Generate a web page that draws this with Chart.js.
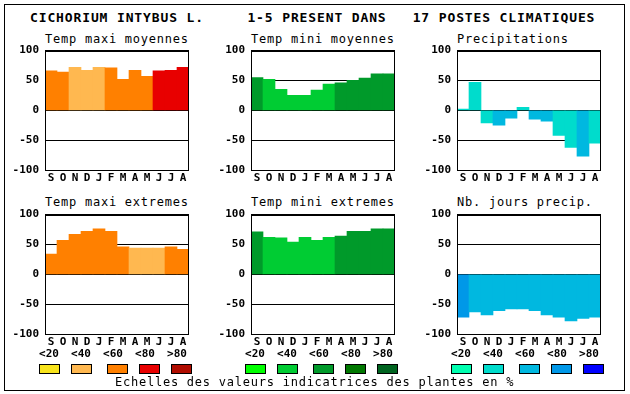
<!DOCTYPE html>
<html>
<head>
<meta charset="utf-8">
<script src="https://cdn.jsdelivr.net/npm/chart.js@4/dist/chart.umd.min.js"></script>
<style>
    body { margin: 0; background: #fff; }
    #page { position: relative; width: 630px; height: 394px; overflow: hidden; font-family: "DejaVu Sans Mono", monospace; color: #000; }
    #frame { position: absolute; left: 4px; top: 4px; width: 621px; height: 387px; box-sizing: border-box; border: 1px solid #000; }
    .txt { position: absolute; white-space: pre; line-height: 14px; }
    .main { font-size: 13px; font-weight: bold; letter-spacing: 0.87px; }
    .sub { font-size: 12px; letter-spacing: 0.76px; }
    .cls { font-size: 11px; font-weight: bold; width: 20px; text-align: center; }
    .sq { position: absolute; width: 21px; height: 10px; box-sizing: border-box; border: 1px solid #000; }
    canvas { position: absolute; }
</style>
</head>
<body>
<div id="page">
    <div id="frame"></div>
</div>
<script>
// month axis, value classes and tick values
const months = ["S", "O", "N", "D", "J", "F", "M", "A", "M", "J", "J", "A"];
const classLabels = ["<20", "<40", "<60", "<80", ">80"];
const yTicks = [-100, -50, 0, 50, 100];

// colour scales (one per family of charts)
const tempColors = ["#f8e41c", "#ffb850", "#ff8000", "#e80000", "#b00c00"];
const greenColors = ["#00ff00", "#00cc33", "#009a2a", "#007800", "#006420"];
const waterColors = ["#00ffb0", "#00dccc", "#00b8e0", "#0098e8", "#0000ff"];

// values (S .. A)
const tmaxMoy = [66, 64, 72, 67, 72, 71, 52, 67, 57, 66, 67, 72];
const tminMoy = [55, 52, 35, 25, 25, 34, 44, 46, 50, 54, 61, 61];
const precip = [2, 47, -21, -25, -13, 5, -15, -18, -42, -62, -77, -55];
const tmaxExt = [34, 57, 67, 72, 76, 72, 46, 44, 44, 44, 46, 42];
const tminExt = [71, 62, 61, 54, 62, 57, 62, 64, 72, 72, 76, 76];
const nbJours = [-72, -63, -68, -61, -58, -58, -61, -68, -72, -78, -74, -72];

// class index (0 = <20 .. 4 = >80) of each month's bar
const tmaxMoyClass = [2, 2, 1, 1, 1, 2, 2, 2, 2, 3, 3, 3];
const tminMoyClass = [2, 1, 1, 1, 1, 1, 1, 2, 2, 2, 2, 2];
const precipClass = [1, 1, 1, 2, 2, 1, 2, 2, 1, 1, 2, 1];
const tmaxExtClass = [2, 2, 2, 2, 2, 2, 2, 1, 1, 1, 2, 2];
const tminExtClass = [2, 1, 1, 1, 1, 1, 1, 2, 2, 2, 2, 2];
const nbJoursClass = [3, 2, 2, 2, 2, 2, 2, 2, 2, 2, 2, 2];

const title = "CICHORIUM INTYBUS L.     1-5 PRESENT DANS   17 POSTES CLIMATIQUES";
const footer = "Echelles des valeurs indicatrices des plantes en %";

const panels = [
    {title: "Temp maxi moyennes", values: tmaxMoy, classes: tmaxMoyClass, colors: tempColors, col: 0, row: 0},
    {title: "Temp mini moyennes", values: tminMoy, classes: tminMoyClass, colors: greenColors, col: 1, row: 0},
    {title: "Precipitations", values: precip, classes: precipClass, colors: waterColors, col: 2, row: 0},
    {title: "Temp maxi extremes", values: tmaxExt, classes: tmaxExtClass, colors: tempColors, col: 0, row: 1},
    {title: "Temp mini extremes", values: tminExt, classes: tminExtClass, colors: greenColors, col: 1, row: 1},
    {title: "Nb. jours precip.", values: nbJours, classes: nbJoursClass, colors: waterColors, col: 2, row: 1},
];

const FONT = '"DejaVu Sans Mono", monospace';
const plotLefts = [45, 251, 457];
const plotTops = [50, 214];
const PLOT_W = 144, PLOT_H = 120, AXIS_W = 45, AXIS_H = 16, PAD_TOP = 12, PAD_RIGHT = 2;

const page = document.getElementById("page");

function addText(cls, text, left, top) {
    const d = document.createElement("div");
    d.className = "txt " + cls;
    d.textContent = text;
    d.style.left = left + "px";
    d.style.top = top + "px";
    page.appendChild(d);
    return d;
}

// black box around the plot area
const framePlugin = {
    id: "plotFrame",
    afterDraw(chart) {
        const a = chart.chartArea;
        const ctx = chart.ctx;
        ctx.save();
        ctx.strokeStyle = "#000";
        ctx.lineWidth = 1;
        ctx.strokeRect(Math.round(a.left) + 0.5, Math.round(a.top) + 0.5,
            Math.round(a.right - a.left) - 1, Math.round(a.bottom - a.top));
        ctx.restore();
    }
};

addText("main", title, 30, 11);

panels.forEach(function(p) {
    const left = plotLefts[p.col];
    const top = plotTops[p.row];

    addText("sub", p.title, left, p.row === 0 ? 32 : 195);

    const canvas = document.createElement("canvas");
    canvas.width = AXIS_W + PLOT_W + PAD_RIGHT;
    canvas.height = PAD_TOP + PLOT_H + AXIS_H;
    canvas.style.left = (left - AXIS_W) + "px";
    canvas.style.top = (top - PAD_TOP) + "px";
    page.appendChild(canvas);

    new Chart(canvas.getContext("2d"), {
        type: "bar",
        data: {
            labels: months,
            datasets: [{
                data: p.values,
                backgroundColor: p.classes.map(c => p.colors[c]),
                borderWidth: 0,
                barPercentage: 1,
                categoryPercentage: 1,
            }]
        },
        options: {
            responsive: false,
            animation: false,
            devicePixelRatio: 1,
            layout: {padding: {top: PAD_TOP, right: PAD_RIGHT, left: 0, bottom: 0}},
            plugins: {legend: {display: false}, tooltip: {enabled: false}},
            scales: {
                x: {
                    grid: {display: false, drawTicks: false},
                    border: {display: false},
                    ticks: {color: "#000", font: {family: FONT, size: 11, weight: "bold"}, padding: 2, maxRotation: 0, autoSkip: false},
                    afterFit: s => { s.height = AXIS_H; },
                },
                y: {
                    min: yTicks[0],
                    max: yTicks[yTicks.length - 1],
                    z: 1,
                    afterBuildTicks: s => { s.ticks = yTicks.map(v => ({value: v})); },
                    grid: {color: "#000", lineWidth: 1, drawTicks: false},
                    border: {display: false},
                    ticks: {color: "#000", font: {family: FONT, size: 11, weight: "bold"}, padding: 6},
                    afterFit: s => { s.width = AXIS_W; },
                }
            }
        },
        plugins: [framePlugin],
    });

    // class scale under the bottom row
    if (p.row === 1) {
        classLabels.forEach(function(lbl, i) {
            const x = left - 6 + 32 * i;
            addText("cls", lbl, x, 347);
            const sq = document.createElement("div");
            sq.className = "sq";
            sq.style.left = (x + (i >= 2 ? 4 : 0)) + "px";
            sq.style.top = "364px";
            sq.style.background = p.colors[i];
            page.appendChild(sq);
        });
    }
});

addText("sub", footer, 115, 375);
</script>
</body>
</html>
